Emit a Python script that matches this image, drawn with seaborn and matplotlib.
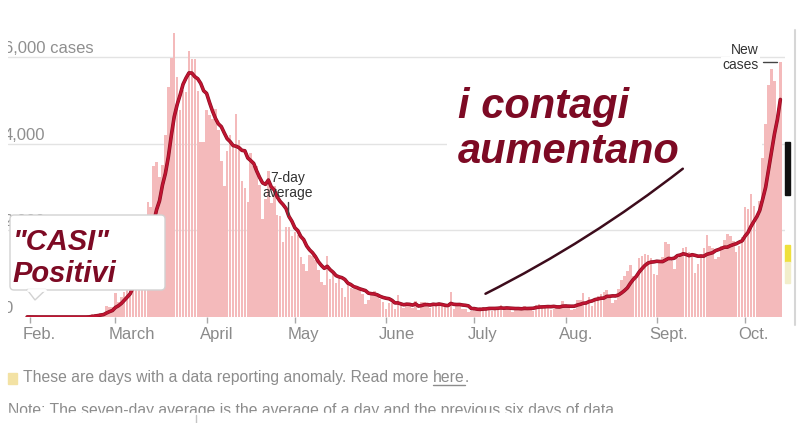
import numpy as np
import pandas as pd
import matplotlib
matplotlib.use('Agg')
import matplotlib.pyplot as plt
import matplotlib.dates as mdates
import matplotlib.patheffects as pe
from matplotlib.patches import Rectangle, FancyBboxPatch, Polygon, FancyArrowPatch
from matplotlib.lines import Line2D
from matplotlib.transforms import IdentityTransform, ScaledTranslation, blended_transform_factory
import seaborn as sns

# daily new cases in Italy (Jan 31 -> Oct 13, 2020)
start_date = '2020-01-31'
cases_jan = [2]
cases_feb = [0, 0, 0, 0, 0, 1, 0, 0, 0, 0,
             0, 0, 0, 0, 0, 0, 0, 0, 0, 0,
             18, 59, 76, 74, 93, 78, 250, 238, 240]
cases_mar = [566, 342, 466, 587, 769, 778, 1247, 1492, 1797, 977,
             2313, 2651, 2547, 3497, 3590, 3233, 3526, 4207, 5322, 5986,
             6557, 5560, 4789, 5249, 5210, 6153, 5959, 5974, 5217, 4050,
             4053]
cases_apr = [4782, 4668, 4585, 4805, 4316, 3599, 3039, 3836, 4204, 3951,
             4694, 4092, 3153, 2972, 2667, 3786, 3493, 3491, 3047, 2256,
             2729, 3370, 2646, 3021, 2357, 2324, 1739, 2091, 2086, 1872]
cases_may = [1965, 1900, 1389, 1221, 1075, 1444, 1401, 1327, 1083, 802,
             744, 1402, 888, 992, 789, 875, 675, 451, 813, 665,
             642, 652, 669, 531, 300, 397, 584, 593, 516, 416,
             355]
cases_jun = [178, 318, 321, 177, 518, 270, 197, 280, 283, 202,
             379, 163, 346, 338, 301, 210, 328, 331, 251, 262,
             224, 218, 577, 190, 296, 259, 175, 174, 126, 142]
cases_jul = [187, 201, 223, 235, 192, 208, 138, 193, 229, 276,
             188, 234, 169, 114, 162, 230, 233, 249, 219, 190,
             129, 282, 306, 252, 275, 255, 170, 181, 202, 288,
             379]
cases_aug = [295, 239, 159, 190, 384, 402, 552, 347, 463, 259,
             412, 481, 523, 574, 629, 479, 320, 403, 642, 845,
             947, 1071, 1210, 953, 878, 1367, 1411, 1462, 1444, 1365,
             996]
cases_sep = [978, 1326, 1397, 1733, 1695, 1297, 1108, 1370, 1434, 1597,
             1616, 1501, 1458, 1008, 1229, 1452, 1585, 1907, 1638, 1587,
             1350, 1392, 1640, 1786, 1912, 1869, 1766, 1494, 1648, 1851]
cases_oct = [2548, 2499, 2844, 2578, 2257, 2677, 3678, 4458, 5372, 5724,
             5456, 4619, 5901]

month_ticks = ['2020-02-01', '2020-03-01', '2020-04-01', '2020-05-01', '2020-06-01',
               '2020-07-01', '2020-08-01', '2020-09-01', '2020-10-01']
month_labels = ['Feb.', 'March', 'April', 'May', 'June', 'July', 'Aug.', 'Sept.', 'Oct.']
y_ticks = [0, 2000, 4000, 6000]
y_labels = ['0', '2,000', '4,000', '6,000 cases']

cases = cases_jan + cases_feb + cases_mar + cases_apr + cases_may + cases_jun + cases_jul + cases_aug + cases_sep + cases_oct
dates = pd.date_range(start_date, periods=len(cases), freq='D')
df = pd.DataFrame({'date': dates, 'cases': cases})
df['avg'] = df['cases'].rolling(7, min_periods=1).mean()
df['x'] = mdates.date2num(df['date'])

sns.set_theme(style='white')
plt.rcParams['font.family'] = ['Liberation Sans', 'DejaVu Sans']

W, H = 800, 423
fig = plt.figure(figsize=(8, 4.23), dpi=100)
pix = IdentityTransform()


def up(y):
    # screenshot coords (top-down) -> display pixels
    return H - y


# plot area: 0 at y=317, 6000 at y=57.5
base, per_k = 317, 43.25
ymax = 7000
top = base - per_k * ymax / 1000
ax = fig.add_axes([8 / W, (H - base) / H, 777 / W, (base - top) / H])

red_dark = '#7d0a24'

for v in y_ticks[1:]:
    ax.axhline(v, color='#e3e3e3', lw=1, zorder=0)

sns.barplot(x=df['x'], y=df['cases'], native_scale=True, color='#f4babb',
            width=0.85, saturation=1, errorbar=None, linewidth=0, ax=ax, zorder=1)
sns.lineplot(x=df['x'], y=df['avg'], color='#c01431', lw=1.7, ax=ax, zorder=3,
             path_effects=[pe.withStroke(linewidth=2.6, foreground='#8a0f22')])

ax.set_ylim(0, ymax)
x0 = mdates.date2num(pd.Timestamp('2020-01-24 12:00'))
x1 = mdates.date2num(pd.Timestamp('2020-10-14 14:00'))
ax.set_xlim(x0, x1)
ax.set_xlabel('')
ax.set_ylabel('')
sns.despine(ax=ax, left=True, bottom=True)
ax.set_yticks([])

tick_x = mdates.date2num(pd.to_datetime(month_ticks))
ax.set_xticks(tick_x, month_labels)
ax.tick_params(axis='x', length=4.5, width=1, direction='out', color='#a8a8a8',
               labelcolor='#8a8a8a', labelsize=12, pad=3, bottom=True)
shift = ScaledTranslation(-7 / 100, 0, fig.dpi_scale_trans)
for lbl in ax.get_xticklabels():
    lbl.set_ha('left')
    lbl.set_transform(lbl.get_transform() + shift)

# y labels sit above their gridlines, clipped at the left edge like the screenshot
ylab_tr = blended_transform_factory(ax.transAxes, ax.transData) + \
    ScaledTranslation(-4.5 / 100, 4.5 / 100, fig.dpi_scale_trans)
for v, s in zip(y_ticks, y_labels):
    ax.text(0, v, s, transform=ylab_tr, ha='left', va='baseline', fontsize=12,
            color='#8f8f8f', clip_on=True, zorder=4)

# white area behind the big caption
ax.add_patch(Rectangle((447, up(172)), 315, 97, transform=pix, facecolor='white',
                       edgecolor='none', zorder=0.5))

# 7-day average / new cases labels
fig.text(288 / W, up(182) / H, '7-day', ha='center', va='baseline', fontsize=10, color='#333333')
fig.text(288 / W, up(197) / H, 'average', ha='center', va='baseline', fontsize=10, color='#333333')
fig.add_artist(Line2D([288, 288], [up(202), up(215)], transform=pix, color='#444444', lw=1))
fig.text(759 / W, up(54) / H, 'New', ha='right', va='baseline', fontsize=10, color='#333333',
         bbox=dict(facecolor='white', edgecolor='none', pad=1))
fig.text(759 / W, up(69) / H, 'cases', ha='right', va='baseline', fontsize=10, color='#333333',
         bbox=dict(facecolor='white', edgecolor='none', pad=1))
fig.add_artist(Line2D([763, 777], [up(62), up(62)], transform=pix, color='#444444', lw=1))

# big caption and hand-drawn stroke
fig.text(458 / W, up(118) / H, 'i contagi', ha='left', va='baseline', fontsize=30,
         fontweight='bold', fontstyle='italic', color=red_dark)
fig.text(458 / W, up(163) / H, 'aumentano', ha='left', va='baseline', fontsize=30,
         fontweight='bold', fontstyle='italic', color=red_dark)
fig.add_artist(FancyArrowPatch((483, up(295)), (685, up(167)), transform=pix,
                               arrowstyle='-', connectionstyle='arc3,rad=0.05',
                               color='#3d0c1c', lw=1.8))

# "CASI" Positivi callout box
fig.add_artist(FancyBboxPatch((10, up(290)), 155, 75, transform=pix,
                              boxstyle='round,pad=0,rounding_size=4',
                              facecolor='white', edgecolor='#d2d2d2', lw=1, zorder=5))
fig.add_artist(Polygon([(27, up(289.5)), (35, up(300)), (46, up(289.5))], transform=pix,
                       facecolor='white', edgecolor='#d2d2d2', lw=1, zorder=5.5))
fig.add_artist(Line2D([28, 45], [up(289.5), up(289.5)], transform=pix, color='white', lw=2, zorder=6))
fig.text(13 / W, up(250) / H, '"CASI"', ha='left', va='baseline', fontsize=21,
         fontweight='bold', fontstyle='italic', color=red_dark, zorder=7)
fig.text(12 / W, up(282) / H, 'Positivi', ha='left', va='baseline', fontsize=21,
         fontweight='bold', fontstyle='italic', color=red_dark, zorder=7)

# page bits at the right edge
fig.add_artist(Line2D([795, 795], [up(30), up(325)], transform=pix, color='#d6d6d6', lw=1.5))
fig.add_artist(Rectangle((785, up(195)), 5, 53, transform=pix, color='#111111'))
fig.add_artist(Rectangle((785, up(262)), 5, 17, transform=pix, color='#efe03c'))
fig.add_artist(Rectangle((785, up(283)), 5, 21, transform=pix, color='#f2eecb'))

# footnotes
fs_note = 11.3
fig.add_artist(Rectangle((8, up(384)), 9, 11, transform=pix, color='#f3e2a4'))
t1 = fig.text(23 / W, up(382) / H, 'These are days with a data reporting anomaly. Read more ',
              ha='left', va='baseline', fontsize=fs_note, color='#8c8c8c')
t2 = fig.text(0, 0, 'here', ha='left', va='baseline', fontsize=fs_note, color='#8c8c8c')
fig.canvas.draw()
r = fig.canvas.get_renderer()
e1 = t1.get_window_extent(r)
t2.set_position((e1.x1 / W, up(382) / H))
fig.canvas.draw()
e2 = t2.get_window_extent(r)
fig.text(e2.x1 / W, up(382) / H, '.', ha='left', va='baseline', fontsize=fs_note, color='#8c8c8c')
fig.add_artist(Line2D([e2.x0, e2.x1], [up(384.5), up(384.5)], transform=pix, color='#8c8c8c', lw=1))

fig.text(8 / W, up(415) / H,
         'Note: The seven-day average is the average of a day and the previous six days of data.',
         ha='left', va='baseline', fontsize=fs_note, color='#8c8c8c')
fig.add_artist(Rectangle((0, 0), W, up(413), transform=pix, color='white', zorder=10))
fig.add_artist(Line2D([196, 196], [up(415), up(423)], transform=pix, color='#c4c4c4', lw=1, zorder=11))

fig.savefig('out.png', dpi=100)
